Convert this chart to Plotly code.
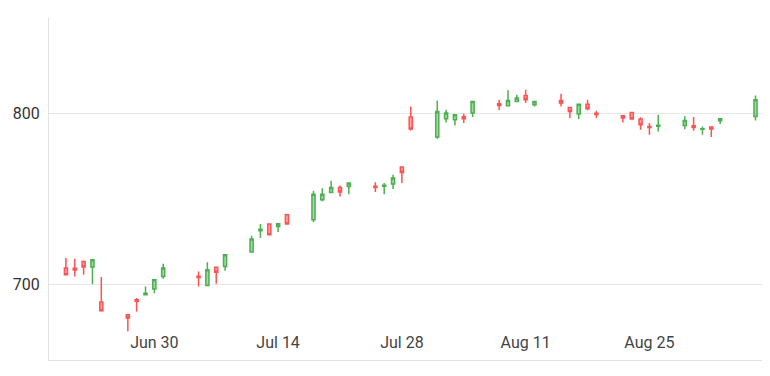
import plotly.graph_objects as go

dates = [
    "2016-06-20", "2016-06-21", "2016-06-22", "2016-06-23", "2016-06-24",
    "2016-06-27", "2016-06-28", "2016-06-29", "2016-06-30", "2016-07-01",
    "2016-07-05", "2016-07-06", "2016-07-07", "2016-07-08",
    "2016-07-11", "2016-07-12", "2016-07-13", "2016-07-14", "2016-07-15",
    "2016-07-18", "2016-07-19", "2016-07-20", "2016-07-21", "2016-07-22",
    "2016-07-25", "2016-07-26", "2016-07-27", "2016-07-28", "2016-07-29",
    "2016-08-01", "2016-08-02", "2016-08-03", "2016-08-04", "2016-08-05",
    "2016-08-08", "2016-08-09", "2016-08-10", "2016-08-11", "2016-08-12",
    "2016-08-15", "2016-08-16", "2016-08-17", "2016-08-18", "2016-08-19",
    "2016-08-22", "2016-08-23", "2016-08-24", "2016-08-25", "2016-08-26",
    "2016-08-29", "2016-08-30", "2016-08-31", "2016-09-01", "2016-09-02",
    "2016-09-06", "2016-09-07",
]

open_ = [
    709.8, 709.6, 713.6, 710.4, 689.9,
    682.5, 691.2, 694.2, 697.5, 704.9,
    705.0, 699.5, 710.2, 710.7,
    719.1, 731.6, 735.5, 734.1, 740.9,
    738.0, 749.7, 754.0, 756.9, 757.5,
    757.6, 757.6, 758.9, 768.8, 798.1,
    786.4, 797.1, 796.5, 798.2, 800.4,
    805.8, 804.7, 807.2, 810.7, 805.3,
    807.8, 803.7, 799.8, 805.6, 800.3,
    798.8, 800.8, 796.9, 792.6, 792.7,
    793.2, 793.0, 790.9, 792.3, 795.9,
    798.4, 804.5,
]

high = [
    715.6, 715.2, 714.2, 714.8, 704.5,
    682.9, 692.2, 699.0, 703.4, 712.3,
    707.8, 713.1, 710.4, 717.7,
    728.7, 735.5, 735.7, 735.9, 741.1,
    755.0, 756.5, 760.8, 758.1, 759.7,
    759.9, 759.5, 764.3, 769.0, 804.3,
    807.8, 802.3, 799.8, 800.0, 807.4,
    808.2, 813.7, 811.1, 814.0, 807.4,
    811.7, 804.0, 805.8, 808.2, 801.8,
    799.0, 801.0, 797.9, 794.6, 799.4,
    798.5, 798.1, 792.6, 792.4, 797.2,
    810.7, 810.7,
]

low = [
    705.5, 704.9, 705.8, 700.4, 684.5,
    672.8, 684.4, 694.0, 695.1, 703.5,
    699.0, 699.3, 700.6, 708.2,
    718.8, 727.3, 729.0, 730.8, 735.3,
    736.7, 748.8, 753.8, 751.6, 753.0,
    754.3, 753.0, 756.0, 759.5, 790.2,
    785.4, 794.9, 793.2, 794.6, 798.1,
    802.0, 804.5, 807.0, 806.3, 804.3,
    804.3, 797.5, 797.0, 802.0, 797.5,
    794.9, 796.9, 790.6, 787.7, 789.6,
    791.0, 790.1, 787.7, 786.4, 794.0,
    796.1, 802.0,
]

close = [
    705.8, 708.6, 710.4, 714.6, 684.8,
    680.5, 690.4, 695.1, 702.9, 709.8,
    704.2, 708.8, 707.3, 717.5,
    726.7, 732.4, 729.2, 735.7, 735.5,
    753.0, 753.0, 756.9, 754.3, 759.5,
    756.9, 758.2, 762.4, 765.7, 791.1,
    801.3, 800.4, 799.4, 797.1, 807.2,
    804.9, 807.8, 809.2, 808.2, 807.2,
    806.3, 801.3, 805.6, 802.9, 799.6,
    797.5, 796.9, 793.6, 792.0, 793.3,
    796.1, 792.0, 791.3, 791.1, 797.1,
    808.2, 808.8,
]

x_range = ["2016-06-18 02:00", "2016-09-07 15:20"]
y_range = [656, 856]

fig = go.Figure(
    go.Candlestick(
        x=dates, open=open_, high=high, low=low, close=close,
        increasing=dict(line=dict(color="#4CAF50", width=1.5),
                        fillcolor="rgba(76,175,80,0.5)"),
        decreasing=dict(line=dict(color="#FF5252", width=1.5),
                        fillcolor="rgba(255,82,82,0.5)"),
        showlegend=False,
        hoverinfo="x+y",
    )
)

# the page body has an 8px default margin; size the figure so it fits the window
fig.update_layout(
    width=762, height=368,
    margin=dict(l=41, r=0, t=10, b=16, autoexpand=False),
    paper_bgcolor="white", plot_bgcolor="white",
    font=dict(family="Roboto", size=16, color="#333333"),
    boxgap=0.5,
    xaxis=dict(
        type="date", range=x_range, rangeslider=dict(visible=False),
        showgrid=False, zeroline=False, showline=True, linecolor="#e2e2e2", linewidth=1,
        tick0="2016-06-30", dtick=14 * 86400000, tickformat="%b %-d",
        ticks="", ticklabelposition="inside", ticklabelstandoff=9,
    ),
    yaxis=dict(
        range=y_range, tick0=0, dtick=100, showgrid=True, gridcolor="#e6e6e6",
        zeroline=False, showline=True, linecolor="#e2e2e2", linewidth=1, ticks="",
        ticklabelstandoff=5,
    ),
)

fig.write_html("out.html")
